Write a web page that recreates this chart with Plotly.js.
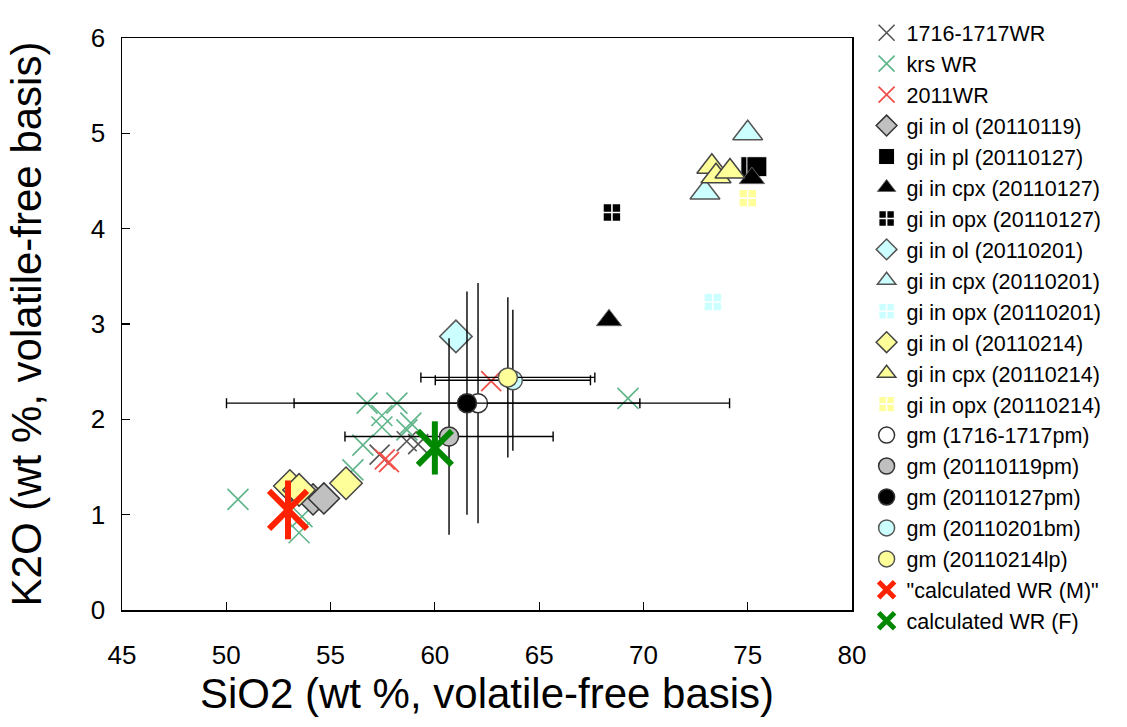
<!DOCTYPE html>
<html>
<head>
<meta charset="utf-8">
<script src="https://cdn.plot.ly/plotly-3.0.1.min.js"></script>
<style>html,body{margin:0;padding:0;background:#fff;}#chart{width:1127px;height:727px;}</style>
</head>
<body>
<div id="chart"></div>
<script>
// ---- data (SiO2, K2O wt %, volatile-free basis) ----
const wr1716_x = [57.35, 58.65, 59.2];
const wr1716_y = [1.63, 1.77, 1.74];
const krs_x = [50.56, 53.49, 53.63, 56.07, 56.55, 56.75, 58.18, 57.46, 57.46, 58.66, 58.85, 69.26];
const krs_y = [1.16, 0.81, 0.98, 1.47, 1.73, 2.17, 2.17, 2.04, 1.92, 1.89, 1.96, 2.22];
const wr2011_x = [57.6, 57.8, 62.7];
const wr2011_y = [1.58, 1.55, 2.40];
const olA_x = [54.16, 54.68];          // gi in ol (20110119)
const olA_y = [1.16, 1.17];
const plB_x = [75.15, 75.44];          // gi in pl (20110127)
const plB_y = [4.65, 4.65];
const cpxB_x = [68.35, 75.2];          // gi in cpx (20110127)
const cpxB_y = [3.04, 4.53];
const opxB_x = [68.49];                // gi in opx (20110127)
const opxB_y = [4.17];
const olC_x = [61.01];                 // gi in ol (20110201)
const olC_y = [2.87];
const cpxC_x = [75.0, 72.95];          // gi in cpx (20110201)
const cpxC_y = [5.0, 4.38];
const opxC_x = [73.33];                // gi in opx (20110201)
const opxC_y = [3.23];
const olD_x = [53.05, 53.49, 55.74];   // gi in ol (20110214)
const olD_y = [1.30, 1.26, 1.33];
const cpxD_x = [73.28, 73.48, 74.15];  // gi in cpx (20110214)
const cpxD_y = [4.65, 4.55, 4.60];
const opxD_x = [75.0];                 // gi in opx (20110214)
const opxD_y = [4.32];
const gm1716_x = [62.07], gm1716_y = [2.17], gm1716_ex = [12.06], gm1716_ey = [1.26];
const gmA_x = [60.68],  gmA_y = [1.82],  gmA_ex = [4.99],  gmA_ey = [1.03];
const gmB_x = [61.54],  gmB_y = [2.17],  gmB_ex = [8.29],  gmB_ey = [1.17];
const gmC_x = [63.74],  gmC_y = [2.41],  gmC_ex = [3.72],  gmC_ey = [0.74];
const gmD_x = [63.50],  gmD_y = [2.44],  gmD_ex = [4.17],  gmD_ey = [0.84];
const calcM_x = [52.96], calcM_y = [1.05];
const calcF_x = [60.0],  calcF_y = [1.70];

const xTicks = [45, 50, 55, 60, 65, 70, 75, 80];
const yTicks = [0, 1, 2, 3, 4, 5, 6];

function pts(name, x, y, symbol, size, fill, lineColor, lineWidth, extra) {
  return Object.assign({
    type: 'scatter', mode: 'markers', name: name, x: x, y: y,
    marker: {symbol: symbol, size: size, color: fill, line: {color: lineColor, width: lineWidth}}
  }, extra || {});
}
function errs(ex, ey) {
  return {
    error_x: {type: 'data', array: ex, visible: true, color: '#000', thickness: 1.4, width: 5},
    error_y: {type: 'data', array: ey, visible: true, color: '#000', thickness: 1.4, width: 0}
  };
}

const traces = [
  pts('1716-1717WR', wr1716_x, wr1716_y, 'x-thin-open', 20, '#555555', '#555555', 1.6),
  pts('krs WR', krs_x, krs_y, 'x-thin-open', 21, '#5fb58a', '#5fb58a', 1.6),
  pts('2011WR', wr2011_x, wr2011_y, 'x-thin-open', 20, '#f0504a', '#f0504a', 1.8),
  pts('gi in ol (20110119)', olA_x, olA_y, 'diamond', 24, '#c0c0c0', '#333333', 1.5),
  pts('gi in pl (20110127)', plB_x, plB_y, 'square', 20, '#000000', '#ffffff', 1),
  pts('gi in cpx (20110127)', cpxB_x, cpxB_y, 'triangle-up', 22, '#000000', '#666666', 1),
  pts('gi in opx (20110127)', opxB_x, opxB_y, 'square-cross', 18, '#000000', '#ffffff', 1.6),
  pts('gi in ol (20110201)', olC_x, olC_y, 'diamond', 25, '#ccffff', '#555555', 1.5),
  pts('gi in cpx (20110201)', cpxC_x, cpxC_y, 'triangle-up', 26, '#ccffff', '#555555', 1.5),
  pts('gi in opx (20110201)', opxC_x, opxC_y, 'square-cross', 18, '#ccffff', '#ffffff', 1.6),
  pts('gi in ol (20110214)', olD_x, olD_y, 'diamond', 25, '#ffff99', '#444444', 1.5),
  pts('gi in cpx (20110214)', cpxD_x, cpxD_y, 'triangle-up', 26, '#ffff99', '#444444', 1.5),
  pts('gi in opx (20110214)', opxD_x, opxD_y, 'square-cross', 18, '#ffff99', '#ffffff', 1.6),
  pts('gm (1716-1717pm)', gm1716_x, gm1716_y, 'circle', 19, '#ffffff', '#333333', 1.5, errs(gm1716_ex, gm1716_ey)),
  pts('gm (20110119pm)', gmA_x, gmA_y, 'circle', 19, '#c0c0c0', '#333333', 1.5, errs(gmA_ex, gmA_ey)),
  pts('gm (20110127pm)', gmB_x, gmB_y, 'circle', 19, '#000000', '#333333', 1.5, errs(gmB_ex, gmB_ey)),
  pts('gm (20110201bm)', gmC_x, gmC_y, 'circle', 19, '#ccffff', '#555555', 1.5, errs(gmC_ex, gmC_ey)),
  pts('gm (20110214lp)', gmD_x, gmD_y, 'circle', 19, '#ffff99', '#555555', 1.5, errs(gmD_ex, gmD_ey)),
  pts('"calculated WR (M)"', calcM_x, calcM_y, 'x-thin-open', 38, '#ff2200', '#ff2200', 6),
  pts('calcM_v', calcM_x, calcM_y, 'line-ns-open', 42, '#ff2200', '#ff2200', 6, {showlegend: false}),
  pts('calculated WR (F)', calcF_x, calcF_y, 'x-thin-open', 34, '#008800', '#008800', 6),
  pts('calcF_v', calcF_x, calcF_y, 'line-ns-open', 38, '#008800', '#008800', 6, {showlegend: false})
];

const axisFont = {family: 'Liberation Sans, Arial, sans-serif', size: 26, color: '#000'};
const titleFont = {family: 'Liberation Sans, Arial, sans-serif', size: 42, color: '#000'};

const layout = {
  width: 1127, height: 727,
  margin: {l: 122, r: 275, t: 30, b: 117},
  paper_bgcolor: '#ffffff', plot_bgcolor: '#ffffff',
  showlegend: true,
  legend: {
    x: 1.02, xanchor: 'left', y: 1.045, yanchor: 'top', maxheight: 720,
    font: {family: 'Liberation Sans, Arial, sans-serif', size: 21.5, color: '#000'},
    bgcolor: 'rgba(0,0,0,0)', borderwidth: 0, tracegroupgap: 0
  },
  xaxis: {
    range: [45, 80], tickvals: xTicks, ticktext: xTicks.map(String),
    showgrid: false, zeroline: false, showline: true, linecolor: '#000', linewidth: 1.5, mirror: true,
    ticks: 'inside', ticklen: 8, tickcolor: '#000', tickwidth: 1.2,
    tickfont: axisFont, ticklabelstandoff: 21,
    title: {text: 'SiO2 (wt %, volatile-free basis)', font: titleFont, standoff: 8}
  },
  yaxis: {
    range: [0, 6], tickvals: yTicks, ticktext: yTicks.map(String),
    showgrid: false, zeroline: false, showline: true, linecolor: '#000', linewidth: 1.5, mirror: true,
    ticks: 'inside', ticklen: 8, tickcolor: '#000', tickwidth: 1.2,
    tickfont: axisFont, ticklabelstandoff: 10,
    title: {text: 'K2O (wt %, volatile-free basis)', font: titleFont, standoff: 36}
  }
};

Plotly.newPlot('chart', traces, layout, {displayModeBar: false, staticPlot: true});
</script>
</body>
</html>
